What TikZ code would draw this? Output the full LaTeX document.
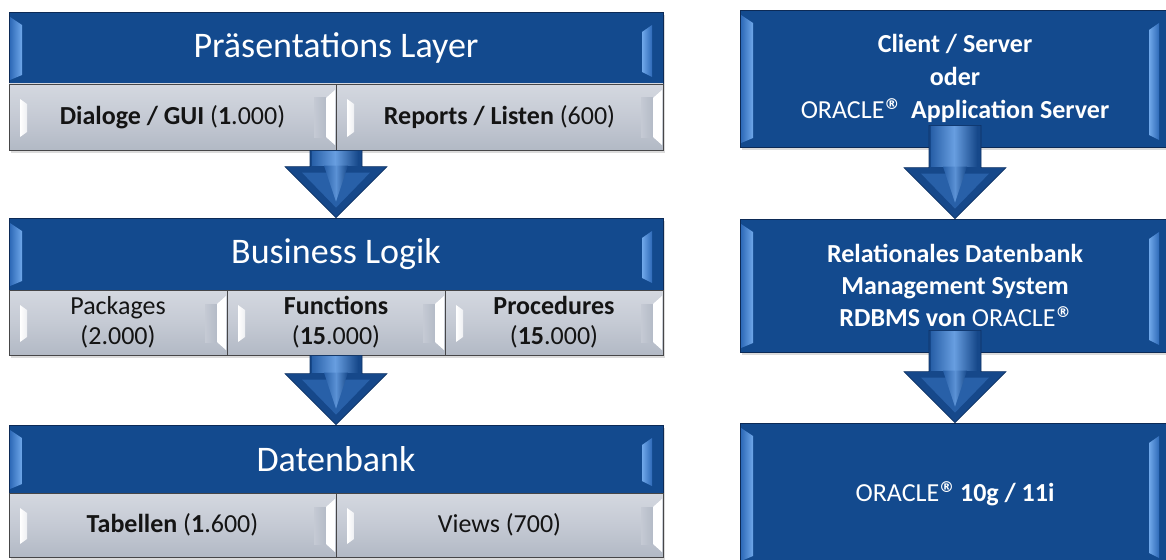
\documentclass[tikz,border=0pt]{standalone}
\usepackage{fontspec}
\setmainfont{Carlito}
\newfontfamily\symfont{DejaVu Sans}
\usetikzlibrary{calc,shadows}
\definecolor{hdrblue}{RGB}{19,74,142}
\definecolor{hdrdark}{RGB}{12,42,86}
\definecolor{hlA}{RGB}{46,106,184}
\definecolor{hlB}{RGB}{112,168,234}
\definecolor{gryT}{RGB}{212,216,224}
\definecolor{gryM}{RGB}{197,202,212}
\definecolor{gryB}{RGB}{178,185,197}
\definecolor{gryline}{RGB}{70,70,72}
\definecolor{arwblue}{RGB}{22,72,138}
\definecolor{arwdark}{RGB}{14,50,100}
\definecolor{arwlight}{RGB}{104,158,224}
\definecolor{arwmid}{RGB}{40,96,168}
\definecolor{txtdark}{RGB}{20,20,20}
\newcommand\regmark{\raisebox{9.5pt}{\symfont\fontsize{15}{15}\selectfont\bfseries ®}}
\tikzset{
  boxshadow/.style={drop shadow={fill=black!40, opacity=0.35, shadow xshift=2pt, shadow yshift=-3pt}},
  hdrbox/.style={draw=hdrdark, line width=0.8pt, fill=hdrblue, text=white, inner sep=0pt,
    align=center, boxshadow,
    path picture={
      \coordinate (bnw) at (path picture bounding box.north west);
      \coordinate (bsw) at (path picture bounding box.south west);
      \coordinate (bne) at (path picture bounding box.north east);
      \coordinate (bse) at (path picture bounding box.south east);
      \shade[left color=hlA, right color=hlB] ($(bnw)+(1pt,-5pt)$) -- ($(bnw)+(13pt,-13pt)$)
        -- ($(bsw)+(13pt,9pt)$) -- ($(bsw)+(1pt,4pt)$) -- cycle;
      \shade[left color=hlB, right color=hlA] ($(bne)+(-21pt,-20pt)$) -- ($(bne)+(-11pt,-13pt)$)
        -- ($(bse)+(-11pt,7pt)$) -- ($(bse)+(-21pt,12pt)$) -- cycle;
    }},
  hdrfont/.style={font=\fontsize{36}{40}\selectfont},
  rfont/.style={font=\fontsize{26}{32}\selectfont},
  subbox/.style={draw=gryline, line width=0.8pt, top color=gryT, bottom color=gryB, middle color=gryM,
    text=txtdark, inner sep=0pt, align=center, boxshadow,
    font=\fontsize{26}{30}\selectfont,
    path picture={
      \coordinate (bnw) at (path picture bounding box.north west);
      \coordinate (bsw) at (path picture bounding box.south west);
      \coordinate (bne) at (path picture bounding box.north east);
      \coordinate (bse) at (path picture bounding box.south east);
      \shade[left color=white, right color=white!70!gryM] ($(bnw)+(11pt,-15pt)$) -- ($(bnw)+(18pt,-20pt)$)
        -- ($(bsw)+(18pt,18pt)$) -- ($(bsw)+(11pt,13pt)$) -- cycle;
      \shade[left color=gryM, right color=gryB!90!gryM] ($(bne)+(-22pt,-14pt)$) -- ($(bne)+(-10pt,-14pt)$)
        -- ($(bse)+(-10pt,13pt)$) -- ($(bse)+(-22pt,13pt)$) -- cycle;
      \fill[white] ($(bne)+(-10pt,-14pt)$) -- ($(bne)+(-1pt,-6pt)$)
        -- ($(bse)+(-1pt,5pt)$) -- ($(bse)+(-10pt,13pt)$) -- cycle;
    }},
}
\newcommand\blockarrow[3]{%
  \filldraw[fill=arwblue, draw=arwdark, line width=0.6pt] let \p1=(#1), \p2=(#2) in
    (\x2-26pt,\y1+#3) -- (\x2+26pt,\y1+#3) -- (\x2+26pt,\y2+51pt) -- (\x2+51pt,\y2+51pt)
    -- (\x2,\y2) -- (\x2-51pt,\y2+51pt) -- (\x2-26pt,\y2+51pt) -- cycle;
  \shade[left color=arwmid, right color=arwblue, middle color=arwlight] let \p1=(#1), \p2=(#2) in
    (\x2-24pt,\y1+#3-1pt) rectangle (\x2+22pt,\y2+52pt);
  \fill[arwmid] let \p1=(#1), \p2=(#2) in
    (\x2-34pt,\y2+45pt) -- (\x2+34pt,\y2+45pt) -- (\x2,\y2+10pt) -- cycle;
  \shade[left color=arwmid, right color=arwblue, middle color=arwlight!80!arwmid] let \p1=(#1), \p2=(#2) in
    (\x2-12pt,\y2+52pt) -- (\x2+12pt,\y2+52pt) -- (\x2,\y2+16pt) -- cycle;
}
\begin{document}
\begin{tikzpicture}[x=1pt,y=-1pt]
\useasboundingbox (0,0) rectangle (1166,559);
\clip (0,0) rectangle (1166,559);
% left column
\node[hdrbox, hdrfont, minimum width=654pt, minimum height=72pt] (pl) at (336,48) {Präsentations Layer};
\node[subbox, minimum width=327pt, minimum height=66pt] (dlg) at (172.5,117) {\textbf{Dialoge / GUI} (\textbf{1}.000)};
\node[subbox, minimum width=327pt, minimum height=66pt] (rep) at (499.5,117) {\textbf{Reports / Listen} (600)};
\node[hdrbox, hdrfont, minimum width=654pt, minimum height=72pt] (bl) at (336,254) {Business Logik};
\node[subbox, minimum width=218pt, minimum height=65pt] (pkg) at (118,322.5) {Packages\\(2.000)};
\node[subbox, minimum width=218pt, minimum height=65pt] (fun) at (336,322.5) {\textbf{Functions}\\(\textbf{15}.000)};
\node[subbox, minimum width=218pt, minimum height=65pt] (proc) at (554,322.5) {\textbf{Procedures}\\(\textbf{15}.000)};
\node[hdrbox, hdrfont, minimum width=654pt, minimum height=68pt] (db) at (336,459) {Datenbank};
\node[subbox, minimum width=327pt, minimum height=64pt] (tab) at (172.5,525) {\textbf{Tabellen} (\textbf{1}.600)};
\node[subbox, minimum width=327pt, minimum height=64pt] (views) at (499.5,525) {Views (700)};
% right column
\node[hdrbox, rfont, minimum width=430pt, minimum height=137pt] (r1) at (955,78.5)
  {\textbf{Client / Server}\\[1pt]\textbf{oder}\\[1pt]ORACLE\regmark\ \ \textbf{Application Server}};
\node[hdrbox, rfont, minimum width=430pt, minimum height=133pt] (r2) at (955,285.5)
  {\textbf{Relationales Datenbank}\\\textbf{Management System}\\\textbf{RDBMS von} ORACLE\regmark};
\node[hdrbox, rfont, minimum width=430pt, minimum height=142pt] (r3) at (955,494)
  {ORACLE\regmark\ \textbf{10g / 11i}};
% arrows
\blockarrow{dlg.south east}{bl.north}{0pt}
\blockarrow{fun.south}{db.north}{0pt}
\blockarrow{r1.south}{r2.north}{22pt}
\blockarrow{r2.south}{r3.north}{22pt}
\end{tikzpicture}
\end{document}
